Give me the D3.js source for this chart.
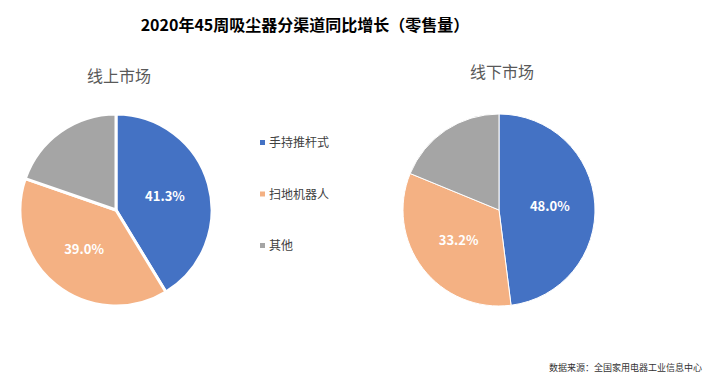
<!DOCTYPE html>
<html>
<head>
<meta charset="utf-8">
<script src="https://cdn.jsdelivr.net/npm/d3@7"></script>
<style>
  body { margin: 0; background: #fff; }
  svg { font-family: "Noto Sans CJK SC", "Noto Sans", sans-serif; }
</style>
</head>
<body>
<div id="chart"></div>
<script>
// chart data
var categories = ["手持推杆式", "扫地机器人", "其他"];
var onlineValues = [41.3, 39.0, 19.7];
var offlineValues = [48.0, 33.2, 18.8];
var colors = ["#4472C4", "#F4B183", "#A5A5A5"];

var svgWidth = 718;
var svgHeight = 388;

var svg = d3.select("#chart")
  .append("svg")
  .attr("width", svgWidth)
  .attr("height", svgHeight);

// main title
svg.append("text")
  .attr("x", 305)
  .attr("y", 31)
  .attr("text-anchor", "middle")
  .style("font-size", "16px")
  .style("font-weight", "bold")
  .attr("fill", "#000")
  .text("2020年45周吸尘器分渠道同比增长（零售量）");

var radius = 96;
var pie = d3.pie().sort(null).value(d => d);
var arc = d3.arc().innerRadius(0).outerRadius(radius);
var labelArc = d3.arc().innerRadius(radius * 0.53).outerRadius(radius * 0.53);

// draw one pie
function drawPie(values, cx, cy, title, titleY, strokeW) {
  var g = svg.append("g")
    .attr("transform", `translate(${cx}, ${cy})`);

  var slices = pie(values);

  g.selectAll("path")
    .data(slices)
    .enter()
    .append("path")
    .attr("d", arc)
    .attr("fill", (d, i) => colors[i])
    .attr("stroke", "#fff")
    .attr("stroke-width", strokeW)
    .attr("stroke-linejoin", "round");

  // labels only for the two big slices
  g.selectAll(".lbl")
    .data(slices.slice(0, 2))
    .enter()
    .append("text")
    .attr("class", "lbl")
    .attr("transform", d => `translate(${labelArc.centroid(d)})`)
    .attr("text-anchor", "middle")
    .attr("dy", "0.35em")
    .style("font-size", "13px")
    .style("font-weight", "bold")
    .attr("fill", "#fff")
    .text(d => d.data.toFixed(1) + "%");

  svg.append("text")
    .attr("x", cx + 3)
    .attr("y", titleY)
    .attr("text-anchor", "middle")
    .style("font-size", "16px")
    .attr("fill", "#595959")
    .text(title);
}

drawPie(onlineValues, 116, 210, "线上市场", 82, 3);
drawPie(offlineValues, 499, 210, "线下市场", 78, 1);

// legend
var legend = svg.selectAll(".legend")
  .data(categories)
  .enter()
  .append("g")
  .attr("class", "legend")
  .attr("transform", (d, i) => `translate(260, ${143 + i * 51.5})`);

legend.append("rect")
  .attr("x", 0)
  .attr("y", -3)
  .attr("width", 5)
  .attr("height", 5)
  .attr("fill", (d, i) => colors[i]);

legend.append("text")
  .attr("x", 9)
  .attr("dy", "0.35em")
  .style("font-size", "12px")
  .attr("fill", "#404040")
  .text(d => d);

// source note
svg.append("text")
  .attr("x", 702)
  .attr("y", 371)
  .attr("text-anchor", "end")
  .style("font-size", "9px")
  .attr("fill", "#333")
  .text("数据来源：全国家用电器工业信息中心");
</script>
</body>
</html>
